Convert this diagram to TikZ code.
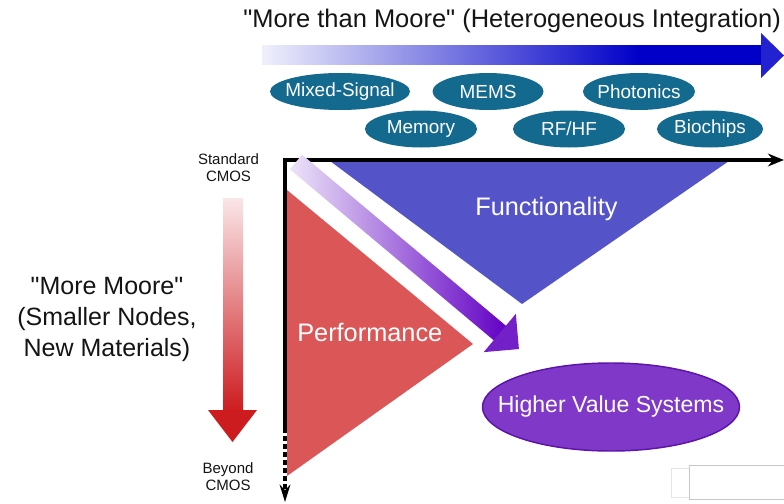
\documentclass[tikz,border=0pt]{standalone}
\usepackage{fontspec}
\setmainfont{Liberation Sans}[Ligatures=TeXOff]
\usetikzlibrary{shapes.geometric,arrows.meta}
\definecolor{techteal}{RGB}{19,106,142}
\definecolor{funcblue}{RGB}{84,84,200}
\definecolor{perfred}{RGB}{219,86,86}
\definecolor{hvsfill}{RGB}{128,56,200}
\definecolor{hvsdraw}{RGB}{92,20,170}
\definecolor{ttlA}{RGB}{240,240,252}
\definecolor{ttlB}{RGB}{0,0,200}
\definecolor{ttlhead}{RGB}{34,34,208}
\definecolor{redA}{RGB}{250,230,232}
\definecolor{redB}{RGB}{205,28,32}
\definecolor{purA}{RGB}{236,228,248}
\definecolor{purB}{RGB}{98,0,196}
\definecolor{purhead}{RGB}{116,32,200}
\definecolor{labelblack}{RGB}{20,20,20}
\pgfdeclarehorizontalshading{ttlshade}{100bp}{color(0bp)=(ttlA); color(25bp)=(ttlA); color(62.5bp)=(ttlB); color(100bp)=(ttlB)}
\tikzset{
  tech/.style={ellipse, fill=techteal, text=white, inner xsep=-5pt, inner ysep=0pt,
    minimum height=27.75pt, font=\fontsize{14.2pt}{17pt}\selectfont},
  axisline/.style={line width=3pt, black},
  bigwhite/.style={text=white, inner sep=0pt, anchor=base west, font=\fontsize{19pt}{23pt}\selectfont},
  blacklabel/.style={text=labelblack, inner sep=0pt, align=center},
}
\begin{document}
\begin{tikzpicture}[x=0.75pt,y=-0.75pt]
\useasboundingbox (0,0) rectangle (784,503);

% title and top gradient arrow
\node[blacklabel, anchor=base west, font=\fontsize{19.1pt}{23pt}\selectfont] (title) at (243,28) {"More than Moore" (Heterogeneous Integration)};
\shade[shading=ttlshade] (262,46) rectangle (764,65);
\fill[ttlhead] (761,33) -- (784,55.5) -- (761,78) -- cycle;

% technology ellipses
\node[tech, minimum width=105pt] (mixed) at (340,91.5) {Mixed-Signal};
\node[tech, minimum width=83.25pt] (mems) at (488,91.5) {MEMS};
\node[tech, minimum width=84pt] (photo) at (639,91.5) {Photonics};
\node[tech, minimum width=84pt] (memory) at (421,129) {Memory};
\node[tech, minimum width=84pt] (rfhf) at (569,129) {RF/HF};
\node[tech, minimum width=79.5pt] (bio) at (710,129) {Biochips};

% triangles
\fill[funcblue] (330,161) -- (729,161) -- (522,304) -- cycle;
\fill[perfred] (287,190) -- (473,344) -- (287,476) -- cycle;
\node[bigwhite] (func) at (475,215) {Functionality};
\node[bigwhite] (perf) at (297,341) {Performance};

% axes
\coordinate (hend) at (784,160);
\coordinate (corner) at (285,160);
\coordinate (vmid) at (285,428);
\coordinate (vend) at (285,502);
\draw[axisline, line join=miter, {Stealth[length=12pt,width=9.5pt]}-] (hend) -- (corner) -- (vmid);
\draw[axisline, dash pattern=on 3.75pt off 2.25pt, -{Stealth[length=13pt,width=8pt]}] (vmid) -- (vend);

% diagonal purple arrow
\begin{scope}[shift={(296,162)}, rotate=-40]
  \shade[left color=purA, right color=purB] (0,-9.5) rectangle (268,9.5);
  \fill[purhead] (266,-25) -- (291,0) -- (266,25) -- cycle;
\end{scope}

% left red arrow
\shade[top color=redA, bottom color=redB] (223,198) rectangle (243,411);
\fill[redB] (208,410) -- (257,410) -- (232.5,442) -- cycle;

% labels
\node[blacklabel, font=\fontsize{11.25pt}{12.75pt}\selectfont] (std) at (228.5,168) {Standard\\CMOS};
\node[blacklabel, font=\fontsize{11.25pt}{13.1pt}\selectfont] (beyond) at (228,476.6) {Beyond\\CMOS};
\node[blacklabel, font=\fontsize{18.75pt}{23.25pt}\selectfont] (moremoore) at (107,319.7) {"More Moore"\\(Smaller Nodes,\\New Materials)};

% result ellipse
\node[ellipse, fill=hvsfill, draw=hvsdraw, line width=1.1pt, minimum width=192.75pt, minimum height=66pt,
  inner xsep=-20pt, inner ysep=0pt, text=white, font=\fontsize{17.3pt}{21pt}\selectfont] (hvs) at (611,407) {Higher Value Systems};

% faint box at bottom right
\draw[black!22, line width=0.75pt] (784,465) -- (689,465) -- (689,499) -- (784,499);
\draw[black!10, line width=0.6pt] (689,468) -- (671,468) -- (671,497) -- (689,497);
\end{tikzpicture}
\end{document}
